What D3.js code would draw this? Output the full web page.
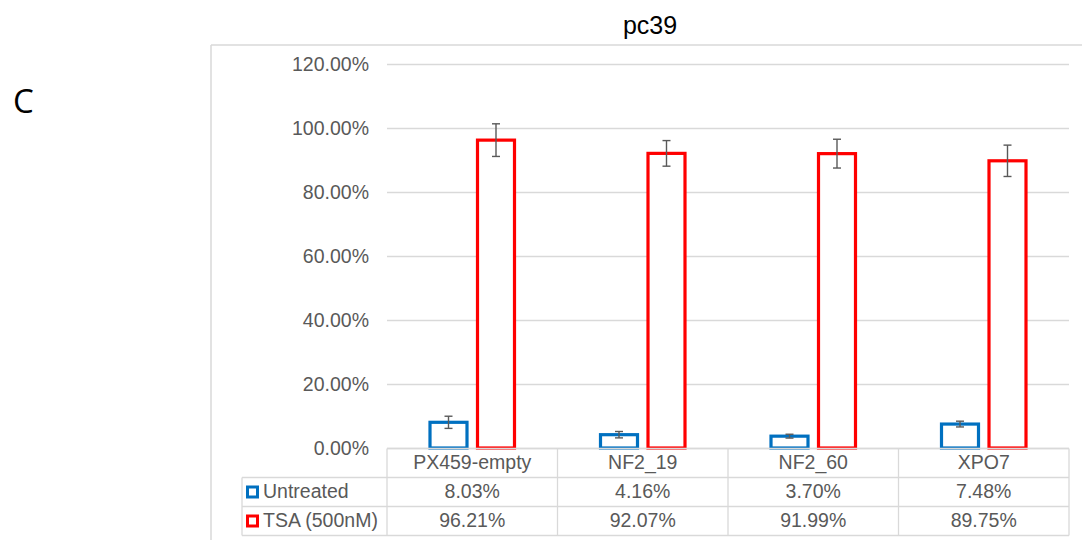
<!DOCTYPE html>
<html>
<head>
<meta charset="utf-8">
<script src="https://cdn.jsdelivr.net/npm/d3@7/dist/d3.min.js"></script>
<style>
  html, body { margin: 0; padding: 0; background: #fff; }
  svg { display: block; }
  text { font-family: "Liberation Sans", Arial, sans-serif; }
</style>
</head>
<body>
<svg id="chart" width="1082" height="540"></svg>
<script>
// Transcription efficiency per construct, with and without TSA treatment
const categories = ["PX459-empty", "NF2_19", "NF2_60", "XPO7"];
const seriesNames = ["Untreated", "TSA (500nM)"];
const untreatedValues = [8.03, 4.16, 3.70, 7.48];
const tsaValues = [96.21, 92.07, 91.99, 89.75];
const untreatedErrors = [1.9, 1.0, 0.6, 0.9];
const tsaErrors = [5.1, 4.0, 4.5, 4.9];
const yTicks = [0, 20, 40, 60, 80, 100, 120];
const seriesColors = ["#0070C0", "#FF0000"];
const chartTitle = "pc39";
const panelLabel = "C";

const series = [
  { name: seriesNames[0], values: untreatedValues, errors: untreatedErrors, color: seriesColors[0] },
  { name: seriesNames[1], values: tsaValues, errors: tsaErrors, color: seriesColors[1] }
];

const svg = d3.select("#chart");
const textColor = "#595959";
const lineColor = "#d9d9d9";
const fontSize = "19.5px";

const plot = { left: 387, right: 1069, top: 64, bottom: 448 };
const rowH = 29;
const legendLeft = 242;

const x = d3.scaleBand().domain(categories).range([plot.left, plot.right]).padding(0);
const barW = 37;
const pairW = 84.5;
const x1 = d3.scaleBand().domain(seriesNames)
  .range([x.bandwidth() / 2 - pairW / 2, x.bandwidth() / 2 + pairW / 2])
  .paddingInner(0.221).paddingOuter(0);
const y = d3.scaleLinear().domain([0, 120]).range([plot.bottom, plot.top]);

// Chart frame (top and left edge)
svg.append("line").attr("x1", 211).attr("x2", 1082).attr("y1", 45).attr("y2", 45)
  .attr("stroke", lineColor).attr("stroke-width", 1.5);
svg.append("line").attr("x1", 211).attr("x2", 211).attr("y1", 45).attr("y2", 540)
  .attr("stroke", lineColor).attr("stroke-width", 1.5);

// Panel letter and title
svg.append("text").attr("x", 13).attr("y", 113)
  .style("font-family", "'Open Sans', 'Noto Sans', sans-serif")
  .style("font-size", "33px").attr("fill", "#000").text(panelLabel);
svg.append("text").attr("x", 650).attr("y", 34).attr("text-anchor", "middle")
  .style("font-size", "25px")
  .attr("fill", "#000").text(chartTitle);

// Y axis with gridlines
const yAxis = d3.axisLeft(y)
  .tickValues(yTicks)
  .tickFormat(d => d.toFixed(2) + "%")
  .tickSizeInner(-(plot.right - plot.left))
  .tickSizeOuter(0)
  .tickPadding(18);
const gy = svg.append("g").attr("transform", `translate(${plot.left},0)`).call(yAxis);
gy.select(".domain").remove();
gy.selectAll(".tick line").attr("stroke", lineColor).attr("stroke-width", 1.3);
gy.selectAll(".tick text").attr("fill", textColor)
  .style("font-size", fontSize).style("font-family", "'Liberation Sans', Arial, sans-serif")
  .attr("dy", "0.35em");

// Bars
const groups = svg.append("g").selectAll("g.cat")
  .data(categories).join("g").attr("class", "cat")
  .attr("transform", d => `translate(${x(d)},0)`);

series.forEach(s => {
  groups.append("rect")
    .attr("x", (d, i) => x1(s.name) + (x1.bandwidth() - barW) / 2)
    .attr("width", barW)
    .attr("y", (d, i) => y(s.values[i]))
    .attr("height", (d, i) => y(0) - y(s.values[i]))
    .attr("fill", "#fff")
    .attr("stroke", s.color)
    .attr("stroke-width", 3.2);
});

// Error bars
const capW = 8;
series.forEach(s => {
  const eg = groups.append("g")
    .attr("stroke", "#595959").attr("stroke-width", 1.4);
  const cx = x1(s.name) + x1.bandwidth() / 2;
  eg.append("line").attr("x1", cx).attr("x2", cx)
    .attr("y1", (d, i) => y(s.values[i] + s.errors[i]))
    .attr("y2", (d, i) => y(s.values[i] - s.errors[i]));
  eg.append("line").attr("x1", cx - capW / 2).attr("x2", cx + capW / 2)
    .attr("y1", (d, i) => y(s.values[i] + s.errors[i]))
    .attr("y2", (d, i) => y(s.values[i] + s.errors[i]));
  eg.append("line").attr("x1", cx - capW / 2).attr("x2", cx + capW / 2)
    .attr("y1", (d, i) => y(s.values[i] - s.errors[i]))
    .attr("y2", (d, i) => y(s.values[i] - s.errors[i]));
});

// Data table below the plot
const tableTop = y(0) + 0.5;
const table = svg.append("g").attr("stroke", lineColor).attr("stroke-width", 1.3);
// horizontal lines
table.append("line").attr("x1", plot.left).attr("x2", plot.right)
  .attr("y1", tableTop).attr("y2", tableTop);
[1, 2, 3].forEach(r => {
  table.append("line").attr("x1", legendLeft).attr("x2", plot.right)
    .attr("y1", tableTop + r * rowH).attr("y2", tableTop + r * rowH);
});
// vertical lines
table.append("line").attr("x1", legendLeft).attr("x2", legendLeft)
  .attr("y1", tableTop + rowH).attr("y2", tableTop + 3 * rowH);
categories.forEach(c => {
  table.append("line").attr("x1", x(c)).attr("x2", x(c))
    .attr("y1", tableTop).attr("y2", tableTop + 3 * rowH);
});
table.append("line").attr("x1", plot.right).attr("x2", plot.right)
  .attr("y1", tableTop).attr("y2", tableTop + 3 * rowH);

// Header row: category labels
const xAxis = d3.axisBottom(x).tickSize(0).tickPadding(0);
const gx = svg.append("g").attr("transform", `translate(0,${tableTop})`).call(xAxis);
gx.select(".domain").remove();
gx.selectAll(".tick text").attr("fill", textColor)
  .style("font-size", fontSize).style("font-family", "'Liberation Sans', Arial, sans-serif")
  .attr("y", 20.5).attr("dy", null);

// Value rows with legend keys
series.forEach((s, r) => {
  const rowY = tableTop + (r + 1) * rowH;
  svg.append("rect")
    .attr("x", 247.5).attr("y", rowY + 9.5).attr("width", 10).attr("height", 10)
    .attr("fill", "#fff").attr("stroke", s.color).attr("stroke-width", 3);
  svg.append("text").attr("x", 263).attr("y", rowY + 20.5)
    .attr("fill", textColor).style("font-size", fontSize).text(s.name);
  svg.append("g").selectAll("text").data(categories).join("text")
    .attr("x", d => x(d) + x.bandwidth() / 2)
    .attr("y", rowY + 20.5)
    .attr("text-anchor", "middle")
    .attr("fill", textColor).style("font-size", fontSize)
    .text((d, i) => s.values[i].toFixed(2) + "%");
});
</script>
</body>
</html>
